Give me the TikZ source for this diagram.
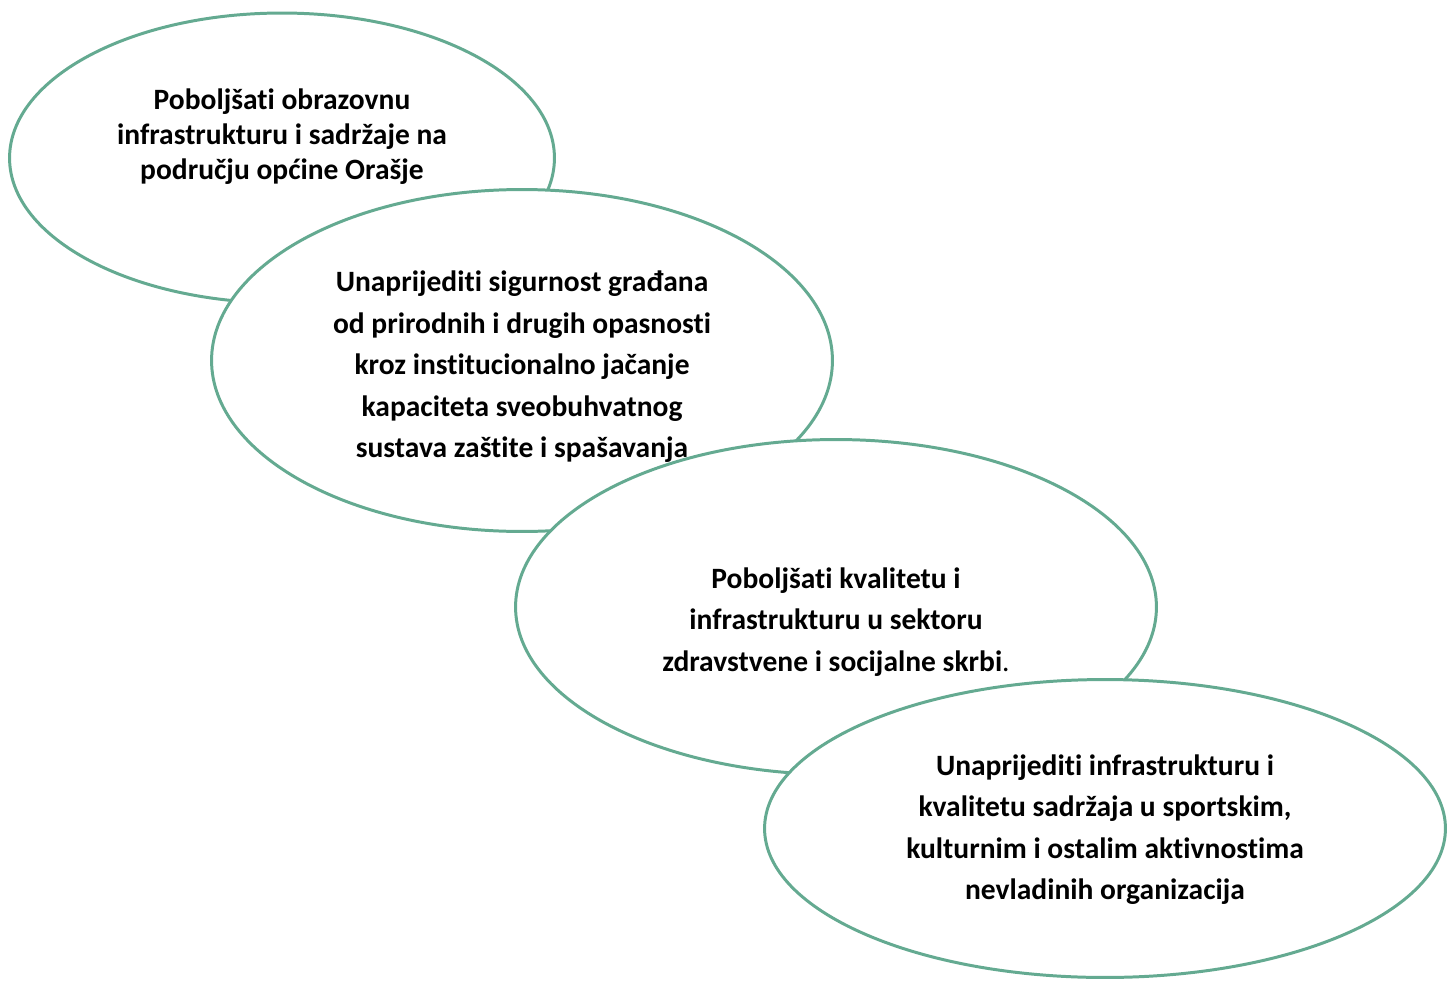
\documentclass[tikz,border=0pt]{standalone}
\usepackage{fontspec}
\setmainfont[Ligatures=NoCommon]{Carlito}
\usetikzlibrary{shapes.geometric}
\definecolor{goalgreen}{RGB}{100,170,145}
\tikzset{
    goal/.style={ellipse,draw=goalgreen,line width=1.7pt,fill=white,inner sep=0pt},
    goaltext/.style={align=center,font=\bfseries\fontsize{16.8}{23.6}\selectfont},
    goaltight/.style={goaltext,font=\bfseries\fontsize{16.8}{20.1}\selectfont}
}

\begin{document}
\begin{tikzpicture}[x=0.02cm,y=-0.02cm]
\useasboundingbox (0,0) rectangle (1456,980);

                % ellipses, back to front
                \node[goal,minimum width=10.9cm,minimum height=5.8cm]  (goal 1) at (282,158)   {};
                \node[goal,minimum width=12.42cm,minimum height=6.84cm] (goal 2) at (522,360.5) {};
                \node[goal,minimum width=12.82cm,minimum height=6.7cm]  (goal 3) at (836,607)   {};
                \node[goal,minimum width=13.62cm,minimum height=5.96cm] (goal 4) at (1105,828.5) {};

                % texts
                \node[goaltight] (text 1) at (282,136.5) {Poboljšati obrazovnu\\infrastrukturu i sadržaje na\\području općine Orašje};
                \node[goaltext]  (text 2) at (522,367) {Unaprijediti sigurnost građana\\od prirodnih i drugih opasnosti\\kroz institucionalno jačanje\\kapaciteta sveobuhvatnog\\sustava zaštite i spašavanja};
                \node[goaltext]  (text 3) at (836,622) {Poboljšati kvalitetu i\\infrastrukturu u sektoru\\zdravstvene i socijalne skrbi{\mdseries .}};
                \node[goaltext]  (text 4) at (1105,829.5) {Unaprijediti infrastrukturu i\\kvalitetu sadržaja u sportskim,\\kulturnim i ostalim aktivnostima\\nevladinih organizacija};

\end{tikzpicture}
\end{document}
